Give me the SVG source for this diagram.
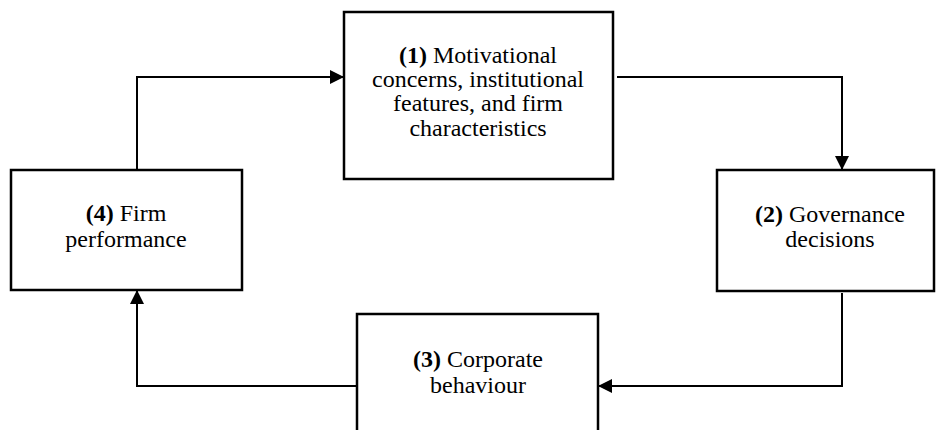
<svg xmlns="http://www.w3.org/2000/svg" width="936" height="430" viewBox="0 0 936 430">
  <defs>
    <marker id="arrow" markerUnits="userSpaceOnUse" markerWidth="14" markerHeight="14" viewBox="0 0 14 14" refX="14" refY="7" orient="auto">
      <path d="M0,0 L14,7 L0,14 Z" fill="#000"/>
    </marker>
  </defs>
  <style>
    .box { fill: #fff; stroke: #000; stroke-width: 2.5; }
    .lbl { font-family: "Liberation Serif", "Times New Roman", serif; font-size: 24px; fill: #000; text-anchor: middle; }
    .num { font-weight: bold; }
    .conn { fill: none; stroke: #000; stroke-width: 2; marker-end: url(#arrow); }
  </style>
  <rect width="936" height="430" fill="#fff"/>
  <g id="connectors">
    <path class="conn" d="M137,170 L137,77 L344,77"/>
    <path class="conn" d="M617,77 L842,77 L842,170"/>
    <path class="conn" d="M842,293 L842,386 L598,386"/>
    <path class="conn" d="M357,386 L137,386 L137,290"/>
  </g>
  <g id="node1">
    <rect class="box" x="344" y="12" width="269" height="167"/>
    <text class="lbl" x="478" y="63"><tspan class="num">(1)</tspan> Motivational</text>
    <text class="lbl" x="478" y="87">concerns, institutional</text>
    <text class="lbl" x="478" y="111">features, and firm</text>
    <text class="lbl" x="478" y="136">characteristics</text>
  </g>
  <g id="node2">
    <rect class="box" x="717" y="170" width="217" height="121"/>
    <text class="lbl" x="830" y="222"><tspan class="num">(2)</tspan> Governance</text>
    <text class="lbl" x="830" y="247">decisions</text>
  </g>
  <g id="node3">
    <rect class="box" x="357" y="314" width="241" height="130"/>
    <text class="lbl" x="478" y="367"><tspan class="num">(3)</tspan> Corporate</text>
    <text class="lbl" x="478" y="393">behaviour</text>
  </g>
  <g id="node4">
    <rect class="box" x="11" y="170" width="231" height="120"/>
    <text class="lbl" x="126" y="221"><tspan class="num">(4)</tspan> Firm</text>
    <text class="lbl" x="126" y="247">performance</text>
  </g>
</svg>
